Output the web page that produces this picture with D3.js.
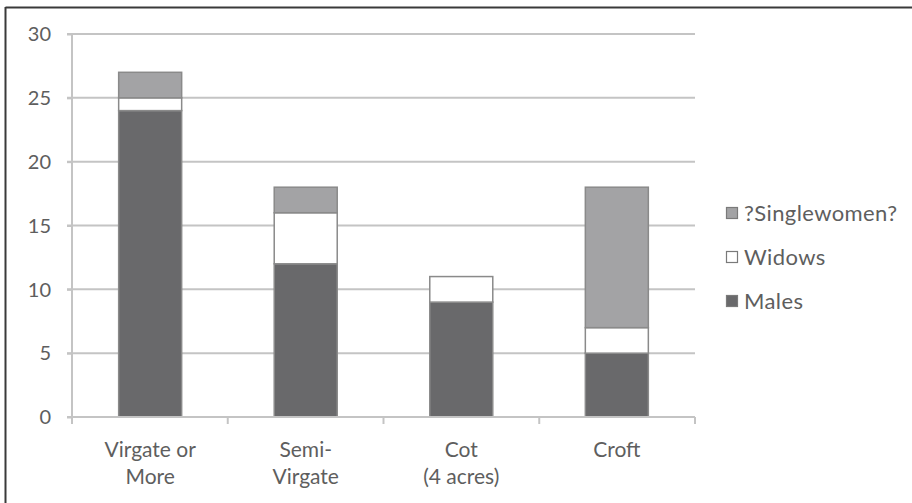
<!DOCTYPE html>
<html>
<head>
<meta charset="utf-8">
<script src="https://cdn.jsdelivr.net/npm/d3@7"></script>
<style>
  html, body { margin: 0; padding: 0; background: #fff; }
  svg { display: block; }
  text { font-family: Lato, "Open Sans", sans-serif; fill: #5e5e5e; }
</style>
</head>
<body>
<svg id="chart" width="912" height="503"></svg>
<script>
// Holdings by tenement size, split by tenant type
const categories = [["Virgate or", "More"], ["Semi-", "Virgate"], ["Cot", "(4 acres)"], ["Croft"]];
const males        = [24, 12, 9, 5];
const widows       = [1, 4, 2, 2];
const singlewomen  = [2, 2, 0, 11];
const seriesNames  = ["Males", "Widows", "?Singlewomen?"];
const seriesColors = ["#69696b", "#ffffff", "#a3a3a5"];
const yTicks = [0, 5, 10, 15, 20, 25, 30];

const svg = d3.select("#chart");
const W = 912, H = 503;

// outer frame: top and left edges only
svg.append("line").attr("x1", 5.5).attr("x2", W).attr("y1", 7.5).attr("y2", 7.5)
  .attr("stroke", "#3a3a3a").attr("stroke-width", 2);
svg.append("line").attr("x1", 5.5).attr("x2", 5.5).attr("y1", 7).attr("y2", H)
  .attr("stroke", "#3a3a3a").attr("stroke-width", 2);

const x0 = 72, x1 = 695, yTop = 34, yBot = 417;
const keys = categories.map((c, i) => i);
const x = d3.scaleBand().domain(keys).range([x0, x1]).paddingInner(0.595).paddingOuter(0.3);
const y = d3.scaleLinear().domain([0, 30]).range([yBot, yTop]);

// gridlines
svg.append("g").selectAll("line").data(yTicks.filter(t => t > 0)).join("line")
  .attr("x1", x0 - 5).attr("x2", x1).attr("y1", d => y(d)).attr("y2", d => y(d))
  .attr("stroke", "#c4c4c4").attr("stroke-width", 2);

// y axis
const yAxis = d3.axisLeft(y).tickValues(yTicks).tickSize(5).tickPadding(16);
const gy = svg.append("g").attr("transform", `translate(${x0},0)`).call(yAxis);
gy.select(".domain").attr("stroke", "#c4c4c4").attr("stroke-width", 2).attr("d", `M-0,${yTop}V${yBot}`);
gy.selectAll(".tick line").attr("stroke", "#c4c4c4").attr("stroke-width", 2);
gy.selectAll(".tick text").style("font-size", "20px").attr("fill", "#5e5e5e").attr("dy", "0.34em");

// stacked bars
const rows = keys.map(i => ({ i, Males: males[i], Widows: widows[i], "?Singlewomen?": singlewomen[i] }));
const stack = d3.stack().keys(seriesNames)(rows);
const color = d3.scaleOrdinal().domain(seriesNames).range(seriesColors);

svg.append("g").selectAll("g").data(stack).join("g")
  .attr("fill", d => color(d.key))
  .selectAll("rect").data(d => d.filter(p => p[1] > p[0])).join("rect")
  .attr("x", d => x(d.data.i))
  .attr("width", x.bandwidth())
  .attr("y", d => y(d[1]))
  .attr("height", d => y(d[0]) - y(d[1]))
  .attr("stroke", "#8a8a8a").attr("stroke-width", 1.5);

// x axis line and ticks between categories
const bandStep = (x1 - x0) / categories.length;
const gx = svg.append("g");
gx.append("line").attr("x1", x0 - 5).attr("x2", x1).attr("y1", yBot).attr("y2", yBot)
  .attr("stroke", "#c4c4c4").attr("stroke-width", 2);
gx.selectAll("line.tk").data(d3.range(categories.length + 1)).join("line").attr("class", "tk")
  .attr("x1", d => x0 + d * bandStep).attr("x2", d => x0 + d * bandStep)
  .attr("y1", yBot).attr("y2", yBot + 7)
  .attr("stroke", "#c4c4c4").attr("stroke-width", 2);

// category labels
const labels = svg.append("g").selectAll("text").data(keys).join("text")
  .attr("x", i => x(i) + x.bandwidth() / 2)
  .attr("y", 457)
  .attr("text-anchor", "middle")
  .style("font-size", "21px");
labels.selectAll("tspan").data(i => categories[i]).join("tspan")
  .attr("x", function() { return d3.select(this.parentNode).attr("x"); })
  .attr("dy", (d, j) => j === 0 ? 0 : 27)
  .text(d => d);

// legend, top entry is the top of the stack
const legendOrder = seriesNames.slice().reverse();
const lg = svg.append("g").selectAll("g").data(legendOrder).join("g")
  .attr("transform", (d, j) => `translate(732,${213 + j * 44})`);
lg.append("rect").attr("x", -5.5).attr("y", -5.5).attr("width", 11).attr("height", 11)
  .attr("fill", d => color(d)).attr("stroke", "#7a7a7a").attr("stroke-width", 1.2);
lg.append("text").attr("x", 12).attr("y", 0).attr("dy", "0.35em")
  .style("font-size", "22px").style("letter-spacing", "0.4px").text(d => d);
</script>
</body>
</html>
